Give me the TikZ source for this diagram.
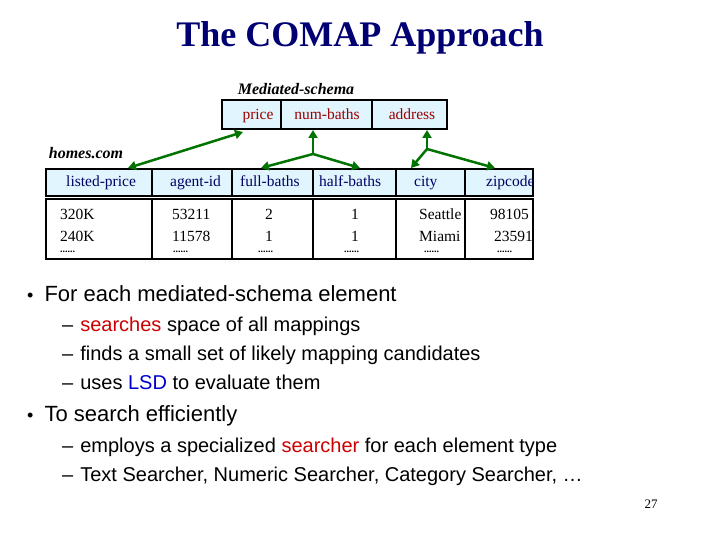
\documentclass[tikz,border=0pt]{standalone}
\usepackage{fontspec}
\setmainfont{Liberation Serif}
\newfontfamily\arial{Liberation Sans}
\usetikzlibrary{arrows.meta}
\begin{document}
\begin{tikzpicture}[x=1pt,y=-1pt,
  cell/.style={draw=black,line width=1.5pt,fill=cyan!12,inner sep=0pt},
  dcell/.style={draw=black,line width=1.5pt,fill=white,inner sep=0pt},
  hd/.style={text=blue!40!black,font=\fontsize{15.5}{15.5}\selectfont,anchor=base west,inner sep=0pt},
  md/.style={text=red!60!black,font=\fontsize{15.5}{15.5}\selectfont,anchor=base,inner sep=0pt},
  dt/.style={font=\fontsize{15.5}{15.5}\selectfont,anchor=base west,inner sep=0pt},
  dots/.style={font=\fontsize{10}{10}\selectfont\bfseries,anchor=base west,inner sep=0pt},
  arr/.style={draw=green!45!black,line width=2.5pt,-{Triangle[length=8pt,width=9pt]}},
  bul/.style={font=\arial\fontsize{24}{24}\selectfont,anchor=base west,inner sep=0pt},
  sub/.style={font=\arial\fontsize{20}{20}\selectfont,anchor=base west,inner sep=0pt}]
\useasboundingbox (0,0) rectangle (720,540);
\node (title) at (360,38) {\fontsize{36}{36}\selectfont\bfseries\color{blue!45!black}The COMAP Approach};
\node[anchor=base,inner sep=0pt] (ms) at (296,95) {\fontsize{16}{16}\selectfont\bfseries\itshape Mediated-schema};
\node[anchor=base,inner sep=0pt] (hc) at (86,159) {\fontsize{16}{16}\selectfont\bfseries\itshape homes.com};
% mediated
\draw[cell] (222,100) rectangle (447,129);
\draw[line width=1.5pt] (281,100)--(281,129) (372,100)--(372,129);
\node[md] (mp) at (258,120) {price};
\node[md] (mn) at (327,120) {num-baths};
\node[md] (ma) at (412,120) {address};
% source
\draw[cell] (46,169) rectangle (533,196);
\draw[dcell] (46,199) rectangle (533,259);
\foreach \x in {152,232,313,396,465}{\draw[line width=1.5pt] (\x,169)--(\x,196) (\x,199)--(\x,259);}
\node[hd] (h1) at (66,187) {listed-price};
\node[hd] (h2) at (170,187) {agent-id};
\node[hd] (h3) at (240,187) {full-baths};
\node[hd] (h4) at (319,187) {half-baths};
\node[hd] (h5) at (414,187) {city};
\node[hd] (h6) at (486,187) {zipcode};
\foreach \n/\x/\a/\b/\c in {1/60/320K/240K/60,2/172/53211/11578/173,3/265/2/1/258,4/351/1/1/344,5/419/Seattle/Miami/424,6/490/98105/23591/497}{
  \node[dt] (d\n a) at (\x,219) {\a};
  \node[dt] (d\n b) at (\x+ \ifnum\n=6 4\else 0\fi,241) {\b};
  \node[dots] (d\n c) at (\c,252) {......};
}
% arrows
\coordinate (pa) at (243,132); \coordinate (pb) at (128,168);
\draw[arr,{Triangle[length=8pt,width=9pt]}-{Triangle[length=8pt,width=9pt]}] (pa)--(pb);
\coordinate (j1) at (313,154);
\draw[arr] (j1)--(313,130);
\draw[arr] (j1)--(261,168);
\draw[arr] (j1)--(360,168);
\coordinate (j2) at (427,149);
\draw[arr] (j2)--(427,130);
\draw[arr] (j2)--(411,168);
\draw[arr] (j2)--(495,168);
% bullets
\node[bul] (b1) at (27,301) {\fontsize{18}{18}\selectfont\textbullet\hspace{11pt}\fontsize{22}{22}\selectfont For each mediated-schema element};
\node[sub] (s1) at (62,331) {–\hspace{7pt}{\color{red!80!black}searches} space of all mappings};
\node[sub] (s2) at (62,360) {–\hspace{7pt}finds a small set of likely mapping candidates};
\node[sub] (s3) at (62,389) {–\hspace{7pt}uses {\color{blue!80!black}LSD} to evaluate them};
\node[bul] (b2) at (27,421) {\fontsize{18}{18}\selectfont\textbullet\hspace{11pt}\fontsize{22}{22}\selectfont To search efficiently};
\node[sub] (s4) at (62,452) {–\hspace{7pt}employs a specialized {\color{red!80!black}searcher} for each element type};
\node[sub] (s5) at (62,481) {–\hspace{7pt}Text Searcher, Numeric Searcher, Category Searcher, \ldots};
\node (pg) at (651,504) {\fontsize{13}{13}\selectfont 27};
\end{tikzpicture}
\end{document}
